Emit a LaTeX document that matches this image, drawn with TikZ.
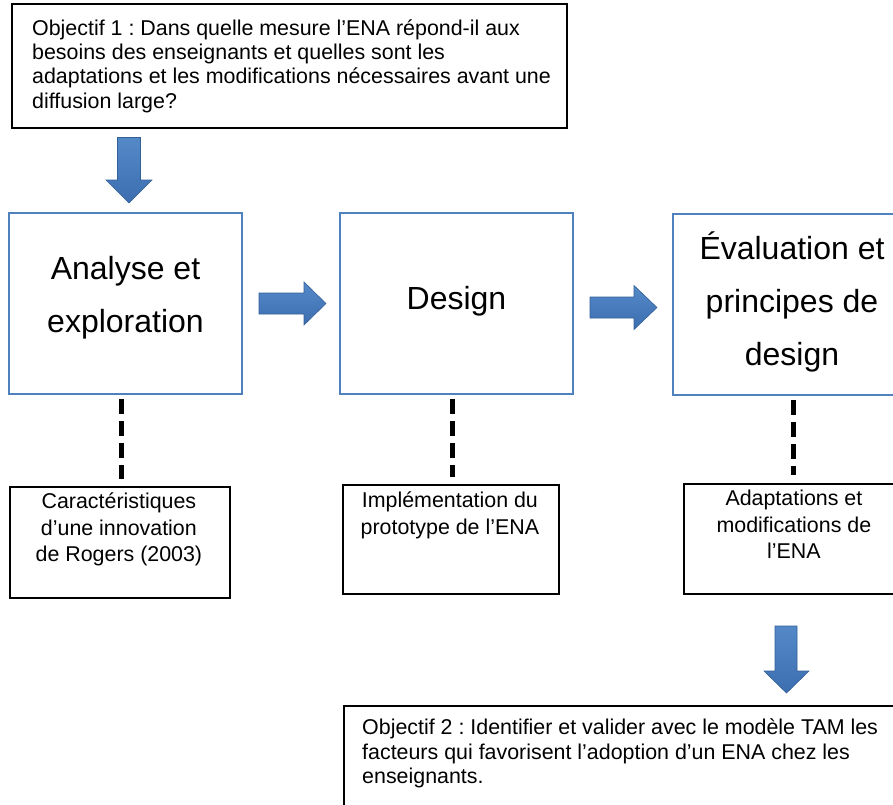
\documentclass[tikz,border=0pt]{standalone}
\usepackage{fontspec}
\setmainfont{Liberation Sans}
\frenchspacing
\definecolor{boxblue}{RGB}{79,129,189}
\definecolor{arrtop}{RGB}{84,137,200}
\definecolor{arrbot}{RGB}{60,110,176}
\definecolor{arrdraw}{RGB}{52,96,152}
\begin{document}
\begin{tikzpicture}[x=1pt,y=-1pt,
  blk/.style={draw=black, line width=1.8pt, fill=white, inner sep=0pt, anchor=north west},
  bluebox/.style={draw=boxblue, line width=2pt, fill=white, inner sep=0pt, anchor=north west,
    minimum width=233pt, minimum height=181pt, align=center, font=\fontsize{32}{53}\selectfont},
  txt/.style={inner sep=0pt, font=\fontsize{21.4}{24.3}\selectfont},
  stxt/.style={inner sep=0pt, align=center, anchor=north, font=\fontsize{21.4}{26.5}\selectfont},
  blockarr/.style={top color=arrtop, bottom color=arrbot, draw=arrdraw, line width=0.6pt, line join=miter},
  dashln/.style={line width=5pt, dash pattern=on 15pt off 7pt, shorten <=4pt, shorten >=7pt}]
\useasboundingbox (0,0) rectangle (893,804);
\begin{scope}
\clip (0,0) rectangle (893,804);
% top objective box
\node[blk, minimum width=555pt, minimum height=124pt] (obj1) at (11,3) {};
\node[txt, align=left, anchor=west] (obj1t) at ([xshift=21pt]obj1.west)
  {Objectif 1 : Dans quelle mesure l’ENA répond-il aux\\
   besoins des enseignants et quelles sont les\\
   adaptations et les modifications nécessaires avant une\\
   diffusion large?};
% main blue boxes
\node[bluebox, text depth=18pt] (b1) at (8,212) {Analyse et\\exploration};
\node[bluebox, text depth=10.5pt] (b2) at (339,212) {Design};
\node[bluebox, minimum width=238pt, text depth=12pt] (b3) at (672,213) {Évaluation et\\principes de\\design};
% sub boxes
\node[blk, minimum width=220pt, minimum height=111pt] (s1) at (9,486) {};
\node[stxt] (s1t) at ([xshift=-1pt,yshift=-7pt]s1.north) {Caractéristiques\\d’une innovation\\de Rogers (2003)};
\node[blk, minimum width=216pt, minimum height=109pt] (s2) at (342,484) {};
\node[stxt] (s2t) at ([xshift=-1pt,yshift=-8pt]s2.north) {Implémentation du\\prototype de l’ENA};
\node[blk, minimum width=218pt, minimum height=110pt] (s3) at (683,483) {};
\node[stxt] (s3t) at ([xshift=1pt,yshift=-7pt]s3.north) {Adaptations et\\modifications de\\l’ENA};
% bottom objective box
\node[blk, minimum width=600pt, minimum height=160pt] (obj2) at (343,705) {};
\node[txt, align=left, anchor=north west] (obj2t) at (362,719)
  {Objectif 2 : Identifier et valider avec le modèle TAM les\\
   facteurs qui favorisent l’adoption d’un ENA chez les\\
   enseignants.};
% dashed links
\coordinate (d1) at (121,0);
\coordinate (d2) at (452,0);
\coordinate (d3) at (793,0);
\draw[dashln] (d1 |- b1.south) -- (d1 |- s1.north);
\draw[dashln] (d2 |- b2.south) -- (d2 |- s2.north);
\draw[dashln, shorten >=8pt] (d3 |- b3.south) -- (d3 |- s3.north);
% block arrows
\path[blockarr] (117.5,137.5) -- (140.5,137.5) -- (140.5,180) -- (152,180) -- (129,203) -- (106,180) -- (117.5,180) -- cycle;
\path[blockarr] (259,293) -- (304,293) -- (304,282) -- (326,303.5) -- (304,325) -- (304,314) -- (259,314) -- cycle;
\path[blockarr] (590,297) -- (634,297) -- (634,285.5) -- (657,307.5) -- (634,329.5) -- (634,318) -- (590,318) -- cycle;
\path[blockarr] (775,626) -- (797,626) -- (797,671) -- (809,671) -- (786.5,693) -- (764,671) -- (775,671) -- cycle;
\end{scope}
\end{tikzpicture}
\end{document}
